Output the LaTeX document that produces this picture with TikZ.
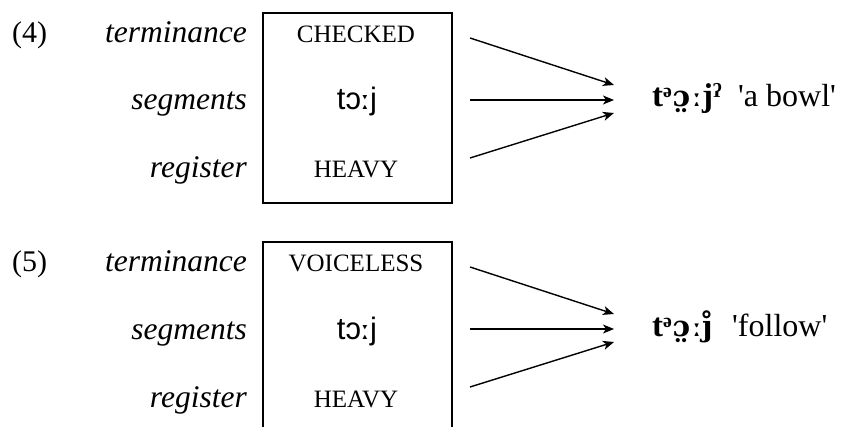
\documentclass[tikz,border=0pt]{standalone}
\usepackage{fontspec}
\setmainfont{Liberation Serif}[Ligatures=TeXOff]
\newfontfamily\ipasans{Liberation Sans}
\newfontfamily\ipasansmark{DejaVu Sans}
\newfontfamily\ipabold{Liberation Serif}[Ligatures=TeXOff]
\newfontfamily\ipamark{DejaVu Serif}
\usetikzlibrary{arrows.meta}
\tikzset{
  lab/.style={anchor=base east, inner sep=0pt, font=\fontsize{31.5}{34}\selectfont\itshape},
  num/.style={anchor=base west, inner sep=0pt, font=\fontsize{30}{34}\selectfont},
  cell/.style={anchor=base, inner sep=0pt, font=\fontsize{25}{30}\selectfont},
  ipacell/.style={anchor=base, inner sep=0pt, font=\fontsize{31}{34}\selectfont\ipasans},
  frame/.style={draw, line width=1.8pt, minimum width=189pt, minimum height=190pt, inner sep=0pt},
  ipaout/.style={anchor=base west, inner sep=0pt, font=\fontsize{33}{36}\selectfont\ipabold\bfseries},
  gloss/.style={anchor=base west, inner sep=0pt, font=\fontsize{32}{36}\selectfont},
  arr/.style={line width=1.4pt, -{Stealth[length=11pt,width=9pt,inset=3pt]}}
}
\newcommand{\mklong}{{\ipamark\fontsize{29}{34}\selectfont ː}}
\newcommand{\mkboxlong}{{\ipasansmark\fontsize{27}{34}\selectfont ː}}
\begin{document}
\begin{tikzpicture}[x=1pt,y=-1pt]
\clip (0,0) rectangle (845,427);
\fill[white] (0,0) rectangle (845,427);
% ---- (4) ----
\node[num] (n4) at (12,43) {(4)};
\node[lab] (t4) at (247,43) {terminance};
\node[lab] (s4) at (247,110) {segments};
\node[lab] (r4) at (247,178) {register};
\node[frame] (box4) at (357.5,108) {};
\node[cell] (c4) at (356,43) {CHECKED};
\node[ipacell] (g4) at (357,110) {tɔ\mkboxlong j};
\node[cell] (h4) at (356,178) {HEAVY};
\node[ipaout] (o4) at (652,107) {tᵊ\kern1pt{\ipamark\fontsize{29}{34}\selectfont ɔ̤}\kern1pt\mklong jˀ};
\node[gloss] (w4) at (738,107) {'a bowl'};
\coordinate (a4s) at (470,38);
\coordinate (b4s) at (470,100);
\coordinate (c4s) at (470,158);
\coordinate (a4e) at (614,85);
\coordinate (b4e) at (614,100);
\coordinate (c4e) at (614,113);
\draw[arr] (a4s) -- (a4e);
\draw[arr] (b4s) -- (b4e);
\draw[arr] (c4s) -- (c4e);
% ---- (5) ----
\node[num] (n5) at (12,272) {(5)};
\node[lab] (t5) at (247,272) {terminance};
\node[lab] (s5) at (247,339) {segments};
\node[lab] (r5) at (247,407) {register};
\node[frame] (box5) at (357.5,337) {};
\node[cell] (c5) at (356,272) {VOICELESS};
\node[ipacell] (g5) at (357,339) {tɔ\mkboxlong j};
\node[cell] (h5) at (356,407) {HEAVY};
\node[ipaout] (o5) at (652,336) {tᵊ\kern1pt{\ipamark\fontsize{29}{34}\selectfont ɔ̤}\kern1pt\mklong{\ipamark\fontsize{29}{34}\selectfont ȷ̊}};
\node[gloss] (w5) at (732,336) {'follow'};
\coordinate (a5s) at (470,267);
\coordinate (b5s) at (470,329);
\coordinate (c5s) at (470,387);
\coordinate (a5e) at (614,314);
\coordinate (b5e) at (614,329);
\coordinate (c5e) at (614,342);
\draw[arr] (a5s) -- (a5e);
\draw[arr] (b5s) -- (b5e);
\draw[arr] (c5s) -- (c5e);
\end{tikzpicture}
\end{document}
